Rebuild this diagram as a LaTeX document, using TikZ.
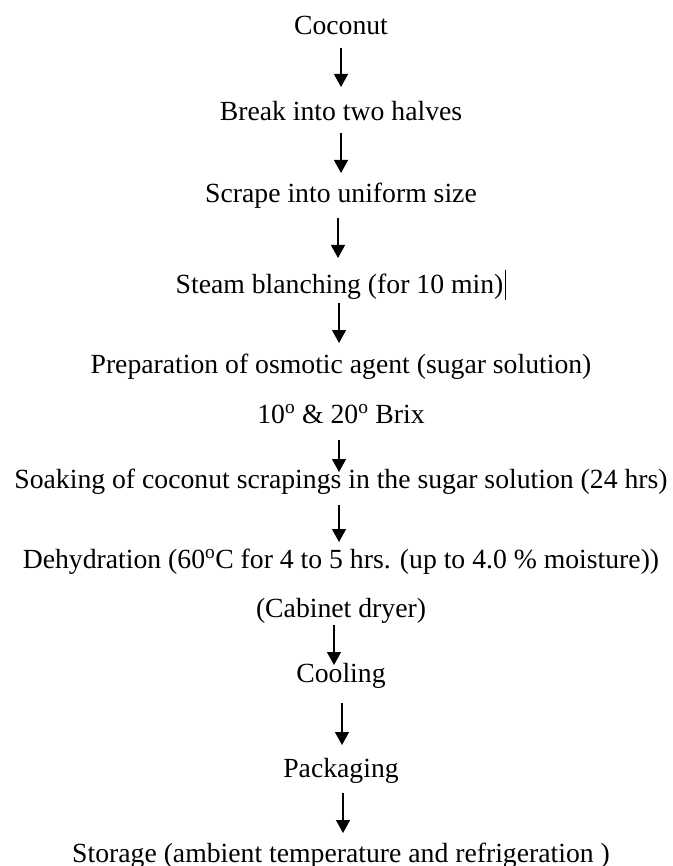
\documentclass[tikz,border=0pt]{standalone}
\usepackage{fontspec}
\setmainfont{Liberation Serif}
\usetikzlibrary{arrows.meta,positioning}

\begin{document}
\begin{tikzpicture}[
  x=1pt, y=1pt,
  stage/.style={anchor=base, inner sep=0pt, font=\fontsize{27.7}{32}\selectfont},
  arr/.style={-{Triangle[length=13pt, width=14pt]}, line width=1.3pt}
]
  \useasboundingbox (0,0) rectangle (672,-866);

  \node[stage] (coco)    at (341,-35)  {Coconut};
  \node[stage] (halves)  at (341,-121) {Break into two halves};
  \node[stage] (scrape)  at (341,-203) {Scrape into uniform size};
  \node[stage] (steam)   at (341,-293) {Steam blanching (for 10 min)\hspace{2pt}\rule[-7pt]{1pt}{30pt}};
  \node[stage] (prep)    at (341,-373) {Preparation of osmotic agent (sugar solution)};
  \node[stage] (brix)    at (341,-423) {10\textsuperscript{o} \& 20\textsuperscript{o} Brix};
  \node[stage] (soak)    at (341,-488) {Soaking of coconut scrapings in the sugar solution (24 hrs)};
  \node[stage] (dehyd)   at (341,-568) {Dehydration (60\textsuperscript{o}C for 4 to 5 hrs. (up to 4.0 \% moisture))};
  \node[stage] (cabinet) at (341,-617) {(Cabinet dryer)};
  \node[stage] (cool)    at (341,-682) {Cooling};
  \node[stage] (pack)    at (341,-777) {Packaging};
  \node[stage] (store)   at (341,-862) {Storage (ambient temperature and refrigeration )};

  \draw[arr] ([yshift=-13pt]coco.base)    -- ([yshift=34pt]halves.base);
  \draw[arr] ([yshift=-12pt]halves.base)  -- ([yshift=30pt]scrape.base);
  \draw[arr] ([xshift=-3pt,yshift=-15pt]scrape.base) -- ([xshift=-3pt,yshift=35pt]steam.base);
  \draw[arr] ([xshift=-2pt,yshift=-10pt]steam.base)  -- ([xshift=-2pt,yshift=30pt]prep.base);
  \draw[arr] ([xshift=-2pt,yshift=-17pt]brix.base)   -- ([xshift=-2pt,yshift=16pt]soak.base);
  \draw[arr] ([xshift=-2pt,yshift=-17pt]soak.base)   -- ([xshift=-2pt,yshift=26pt]dehyd.base);
  \draw[arr] ([xshift=-7pt,yshift=-8pt]cabinet.base) -- ([xshift=-7pt,yshift=17pt]cool.base);
  \draw[arr] ([xshift=1pt,yshift=-21pt]cool.base)    -- ([xshift=1pt,yshift=32pt]pack.base);
  \draw[arr] ([xshift=2pt,yshift=-16pt]pack.base)    -- ([xshift=2pt,yshift=29pt]store.base);
\end{tikzpicture}
\end{document}
